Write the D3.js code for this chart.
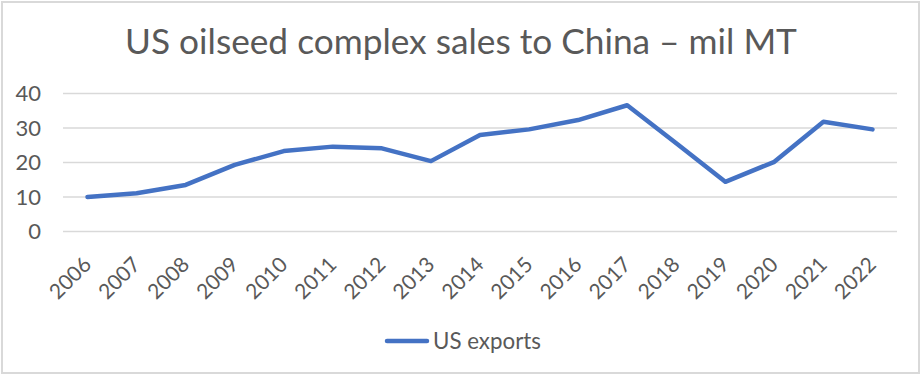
<!DOCTYPE html>
<html>
<head>
<meta charset="utf-8">
<script src="https://cdn.jsdelivr.net/npm/d3@7"></script>
<style>
  body { margin: 0; background: #fff; }
  svg text { font-family: Lato, "Open Sans", sans-serif; fill: #595959; }
</style>
</head>
<body>
<svg id="chart" width="922" height="377"></svg>
<script>
// Chart data
const years = ['2006', '2007', '2008', '2009', '2010', '2011', '2012', '2013', '2014',
  '2015', '2016', '2017', '2018', '2019', '2020', '2021', '2022'];
const usExports = [10.0, 11.1, 13.5, 19.3, 23.3, 24.6, 24.1, 20.4, 28.0,
  29.6, 32.3, 36.6, 25.6, 14.4, 20.2, 31.8, 29.6];
const yTicks = [0, 10, 20, 30, 40];
const titleText = 'US oilseed complex sales to China \u2013 mil MT';
const seriesName = 'US exports';

const svg = d3.select('#chart');
const lineColor = '#4472C4';
const gridColor = '#d9d9d9';

// Fit a text element's font size so it spans a given width
function fitWidth(sel, width) {
  const fs = parseFloat(sel.attr('font-size'));
  const w = sel.node().getComputedTextLength();
  sel.attr('font-size', fs * width / w);
}

// Outer chart border
svg.append('rect')
  .attr('x', 2).attr('y', 2)
  .attr('width', 917).attr('height', 371)
  .attr('fill', 'none')
  .attr('stroke', gridColor)
  .attr('stroke-width', 2);

// Title
const title = svg.append('text')
  .attr('x', 461).attr('y', 54)
  .attr('text-anchor', 'middle')
  .attr('font-size', 34)
  .text(titleText);
fitWidth(title, 672);

const x = d3.scaleBand()
  .domain(years)
  .range([63, 897]);

const y = d3.scaleLinear()
  .domain([0, 40])
  .range([231.5, 93.5]);

// Gridlines
svg.append('g')
  .selectAll('line')
  .data(yTicks)
  .join('line')
  .attr('x1', x.range()[0])
  .attr('x2', x.range()[1])
  .attr('y1', d => y(d))
  .attr('y2', d => y(d))
  .attr('stroke', gridColor)
  .attr('stroke-width', 1.5);

// Y axis labels
svg.append('g')
  .selectAll('text')
  .data(yTicks)
  .join('text')
  .attr('x', 41)
  .attr('y', d => y(d))
  .attr('dy', '0.36em')
  .attr('text-anchor', 'end')
  .attr('font-size', 22)
  .text(d => d);

// X axis labels, rotated 45 degrees
svg.append('g')
  .selectAll('text')
  .data(years)
  .join('text')
  .attr('transform', d => `translate(${x(d) + x.bandwidth() / 2 + 5}, 266) rotate(-45)`)
  .attr('text-anchor', 'end')
  .attr('font-size', 21)
  .text(d => d);

// The series line
const line = d3.line()
  .x((d, i) => x(years[i]) + x.bandwidth() / 2)
  .y(d => y(d));

svg.append('path')
  .datum(usExports)
  .attr('d', line)
  .attr('fill', 'none')
  .attr('stroke', lineColor)
  .attr('stroke-width', 4.5)
  .attr('stroke-linejoin', 'round')
  .attr('stroke-linecap', 'round');

// Legend
const legend = svg.append('g').attr('transform', 'translate(385, 341)');
legend.append('line')
  .attr('x1', 2).attr('x2', 42)
  .attr('stroke', lineColor)
  .attr('stroke-width', 4.5)
  .attr('stroke-linecap', 'round');
const legendText = legend.append('text')
  .attr('x', 48)
  .attr('dy', '0.35em')
  .attr('font-size', 22)
  .text(seriesName);
fitWidth(legendText, 108);
</script>
</body>
</html>
